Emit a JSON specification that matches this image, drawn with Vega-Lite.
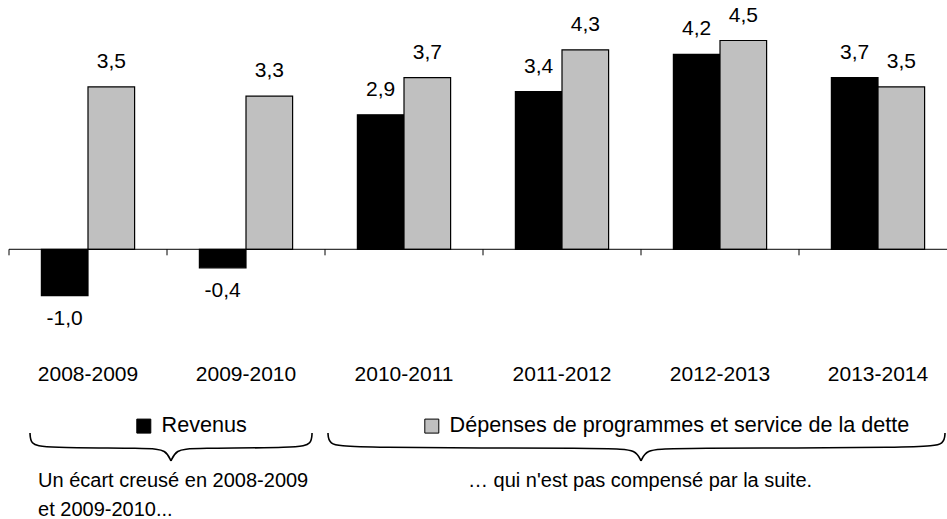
{
  "$schema": "https://vega.github.io/schema/vega-lite/v6.json",
  "width": 947,
  "height": 519,
  "autosize": "none",
  "padding": 0,
  "background": "white",
  "config": {
    "font": "Liberation Sans",
    "view": {"stroke": null},
    "locale": {"number": {"decimal": ",", "thousands": " ", "grouping": [3], "currency": ["", " €"], "minus": "-"}}
  },
  "datasets": {
    "donnees": [
      {"annee": "2008-2009", "serie": "Revenus", "valeur": -1.0},
      {"annee": "2008-2009", "serie": "Dépenses de programmes et service de la dette", "valeur": 3.5},
      {"annee": "2009-2010", "serie": "Revenus", "valeur": -0.4},
      {"annee": "2009-2010", "serie": "Dépenses de programmes et service de la dette", "valeur": 3.3},
      {"annee": "2010-2011", "serie": "Revenus", "valeur": 2.9},
      {"annee": "2010-2011", "serie": "Dépenses de programmes et service de la dette", "valeur": 3.7},
      {"annee": "2011-2012", "serie": "Revenus", "valeur": 3.4},
      {"annee": "2011-2012", "serie": "Dépenses de programmes et service de la dette", "valeur": 4.3},
      {"annee": "2012-2013", "serie": "Revenus", "valeur": 4.2},
      {"annee": "2012-2013", "serie": "Dépenses de programmes et service de la dette", "valeur": 4.5},
      {"annee": "2013-2014", "serie": "Revenus", "valeur": 3.7},
      {"annee": "2013-2014", "serie": "Dépenses de programmes et service de la dette", "valeur": 3.5}
    ],
    "graduations": [{"u": 0}, {"u": 1}, {"u": 2}, {"u": 3}, {"u": 4}, {"u": 5}, {"u": 6}],
    "axe": [{"u": 0, "u2": 6}],
    "accolades": [
      {"partie": "g1", "ordre": 1, "u": 0.133, "v": -3.959},
      {"partie": "g1", "ordre": 2, "u": 0.136, "v": -4.196},
      {"partie": "g1", "ordre": 3, "u": 0.215, "v": -4.282},
      {"partie": "g1", "ordre": 4, "u": 0.892, "v": -4.282},
      {"partie": "g1", "ordre": 5, "u": 0.994, "v": -4.325},
      {"partie": "g1", "ordre": 6, "u": 1.025, "v": -4.562},
      {"partie": "g2", "ordre": 1, "u": 1.025, "v": -4.562},
      {"partie": "g2", "ordre": 2, "u": 1.057, "v": -4.325},
      {"partie": "g2", "ordre": 3, "u": 1.158, "v": -4.282},
      {"partie": "g2", "ordre": 4, "u": 1.836, "v": -4.282},
      {"partie": "g2", "ordre": 5, "u": 1.915, "v": -4.196},
      {"partie": "g2", "ordre": 6, "u": 1.918, "v": -3.959},
      {"partie": "d1", "ordre": 1, "u": 2.019, "v": -3.959},
      {"partie": "d1", "ordre": 2, "u": 2.022, "v": -4.196},
      {"partie": "d1", "ordre": 3, "u": 2.135, "v": -4.282},
      {"partie": "d1", "ordre": 4, "u": 3.835, "v": -4.282},
      {"partie": "d1", "ordre": 5, "u": 3.968, "v": -4.325},
      {"partie": "d1", "ordre": 6, "u": 4.0, "v": -4.562},
      {"partie": "d2", "ordre": 1, "u": 4.0, "v": -4.562},
      {"partie": "d2", "ordre": 2, "u": 4.032, "v": -4.325},
      {"partie": "d2", "ordre": 3, "u": 4.165, "v": -4.282},
      {"partie": "d2", "ordre": 4, "u": 5.81, "v": -4.282},
      {"partie": "d2", "ordre": 5, "u": 5.921, "v": -4.196},
      {"partie": "d2", "ordre": 6, "u": 5.924, "v": -3.959}
    ]
  },
  "resolve": {"scale": {"x": "independent"}},
  "layer": [
    {
      "data": {"name": "donnees"},
      "layer": [
        {
          "mark": {"type": "bar", "stroke": "black", "strokeWidth": 1.2},
          "encoding": {
            "x": {"field": "annee", "type": "nominal", "sort": null, "axis": null, "scale": {"range": [9, 957], "paddingInner": 0.41, "paddingOuter": 0.205}},
            "xOffset": {"field": "serie", "type": "nominal", "scale": {"domain": ["Revenus", "Dépenses de programmes et service de la dette"], "paddingInner": 0, "paddingOuter": 0}},
            "y": {"field": "valeur", "type": "quantitative", "axis": null, "scale": {"domain": [-5.813, 5.373], "nice": false}},
            "color": {
              "field": "serie", "type": "nominal",
              "scale": {"domain": ["Revenus", "Dépenses de programmes et service de la dette"], "range": ["#000000", "#C0C0C0"]},
              "legend": {
                "orient": "none", "legendX": 133, "legendY": 415, "direction": "horizontal", "title": null,
                "symbolType": "square", "symbolSize": 196, "symbolStrokeColor": "black", "symbolStrokeWidth": 1,
                "labelFontSize": 21.6, "labelOffset": 7, "columnPadding": 174, "labelLimit": 700,
                "labelFont": "Liberation Sans", "labelColor": "black", "padding": 0
              }
            }
          }
        },
        {
          "transform": [{"filter": "datum.valeur >= 0"}],
          "mark": {"type": "text", "baseline": "alphabetic", "dy": -19, "fontSize": 21, "color": "black"},
          "encoding": {
            "x": {"field": "annee", "type": "nominal", "sort": null},
            "xOffset": {"field": "serie", "type": "nominal", "scale": {"domain": ["Revenus", "Dépenses de programmes et service de la dette"], "paddingInner": 0, "paddingOuter": 0}},
            "y": {"field": "valeur", "type": "quantitative", "scale": {"domain": [-5.813, 5.373], "nice": false}},
            "text": {"field": "valeur", "type": "quantitative", "format": ".1f"}
          }
        },
        {
          "transform": [{"filter": "datum.valeur < 0"}],
          "mark": {"type": "text", "baseline": "top", "dy": 12, "fontSize": 21, "color": "black"},
          "encoding": {
            "x": {"field": "annee", "type": "nominal", "sort": null},
            "xOffset": {"field": "serie", "type": "nominal", "scale": {"domain": ["Revenus", "Dépenses de programmes et service de la dette"], "paddingInner": 0, "paddingOuter": 0}},
            "y": {"field": "valeur", "type": "quantitative", "scale": {"domain": [-5.813, 5.373], "nice": false}},
            "text": {"field": "valeur", "type": "quantitative", "format": ".1f"}
          }
        },
        {
          "transform": [{"filter": "datum.serie === 'Revenus'"}],
          "mark": {"type": "text", "baseline": "alphabetic", "fontSize": 21, "color": "black"},
          "encoding": {
            "x": {"field": "annee", "type": "nominal", "sort": null},
            "y": {"datum": -2.83, "scale": {"domain": [-5.813, 5.373], "nice": false}},
            "text": {"field": "annee", "type": "nominal"}
          }
        }
      ]
    },
    {
      "layer": [
        {
          "data": {"name": "axe"},
          "mark": {"type": "rule", "color": "black", "strokeWidth": 1},
          "encoding": {
            "x": {"field": "u", "type": "quantitative", "axis": null, "scale": {"domain": [0, 6], "range": [9, 957], "nice": false}},
            "x2": {"field": "u2"},
            "y": {"datum": 0, "scale": {"domain": [-5.813, 5.373], "nice": false}}
          }
        },
        {
          "data": {"name": "graduations"},
          "mark": {"type": "rule", "color": "black", "strokeWidth": 1},
          "encoding": {
            "x": {"field": "u", "type": "quantitative"},
            "y": {"datum": 0, "scale": {"domain": [-5.813, 5.373], "nice": false}},
            "y2": {"datum": -0.13}
          }
        },
        {
          "data": {"name": "accolades"},
          "mark": {"type": "line", "interpolate": "basis", "color": "black", "strokeWidth": 1.6},
          "encoding": {
            "x": {"field": "u", "type": "quantitative"},
            "y": {"field": "v", "type": "quantitative", "scale": {"domain": [-5.813, 5.373], "nice": false}},
            "detail": {"field": "partie", "type": "nominal"},
            "order": {"field": "ordre", "type": "quantitative"}
          }
        },
        {
          "data": {"values": [{}]},
          "mark": {"type": "text", "text": "Un écart creusé en 2008-2009\net 2009-2010...", "lineBreak": "\n", "lineHeight": 29, "align": "left", "baseline": "alphabetic", "fontSize": 20, "color": "black"},
          "encoding": {
            "x": {"datum": 0.184},
            "y": {"datum": -5.123, "scale": {"domain": [-5.813, 5.373], "nice": false}}
          }
        },
        {
          "data": {"values": [{}]},
          "mark": {"type": "text", "text": "… qui n'est pas compensé par la suite.", "align": "center", "baseline": "alphabetic", "fontSize": 20, "color": "black"},
          "encoding": {
            "x": {"datum": 3.994},
            "y": {"datum": -5.123, "scale": {"domain": [-5.813, 5.373], "nice": false}}
          }
        }
      ]
    }
  ]
}
